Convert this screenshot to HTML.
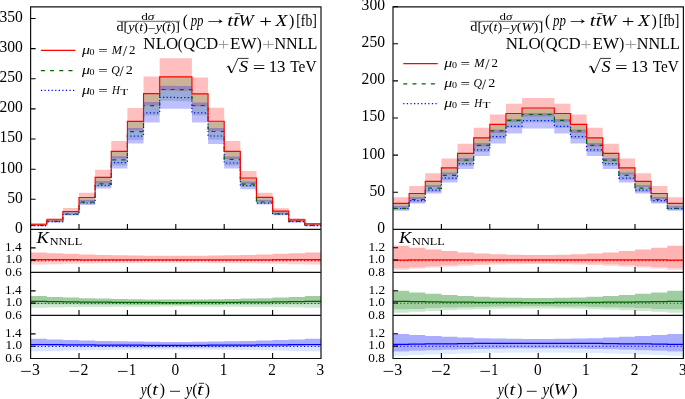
<!DOCTYPE html><html><head><meta charset="utf-8"><style>html,body{margin:0;padding:0;background:#fff;}svg{display:block;will-change:transform;}text{font-family:"Liberation Serif",serif;fill:#000;}.it{font-style:italic;}</style></head><body>
<svg width="685" height="399" viewBox="0 0 685 399">
<rect x="0" y="0" width="685" height="399" fill="#fff"/>
<path d="M30.6,223.2H46.73V218H62.87V207.9H79V192.8H95.13V169.8H111.27V141H127.4V108H143.53V76.5H159.67V58.3H175.8V58.3H191.93V77.6H208.07V107.8H224.2V141H240.33V171.1H256.47V192.8H272.6V208.3H288.73V218.3H304.87V223H321V225.1H304.87V221H288.73V213.5H272.6V201.5H256.47V183.8H240.33V159H224.2V131H208.07V106.5H191.93V90.7H175.8V90.6H159.67V105.6H143.53V130.6H127.4V158.6H111.27V183.5H95.13V201.5H79V213.6H62.87V221H46.73V225.2H30.6Z" fill="rgba(255,0,0,0.25)"/>
<path d="M30.6,224.2H46.73V219.7H62.87V211.5H79V197.5H95.13V177.4H111.27V151.3H127.4V121.3H143.53V93.6H159.67V76.8H175.8V76.9H191.93V93.8H208.07V121.2H224.2V151.4H240.33V178H256.47V197.3H272.6V211.1H288.73V219.8H304.87V223.9H321V225.8H304.87V222H288.73V214.7H272.6V203.8H256.47V187H240.33V165.4H224.2V139.8H208.07V115.5H191.93V101.3H175.8V100.8H159.67V115.5H143.53V140H127.4V165.6H111.27V186.8H95.13V203.8H79V215H62.87V222H46.73V225.8H30.6Z" fill="rgba(0,128,0,0.2)"/>
<path d="M30.6,224.8H46.73V220.5H62.87V212.5H79V200H95.13V181H111.27V156.3H127.4V127.9H143.53V101.9H159.67V85.8H175.8V86H191.93V102.6H208.07V128H224.2V156.6H240.33V181.5H256.47V200H272.6V212.5H288.73V220.5H304.87V224.6H321V226.2H304.87V222.4H288.73V215.3H272.6V204.6H256.47V189.3H240.33V168.6H224.2V144H208.07V122.6H191.93V108.8H175.8V108.8H159.67V122.6H143.53V143.6H127.4V168.6H111.27V188.6H95.13V205H79V215.6H62.87V222.4H46.73V226.2H30.6Z" fill="rgba(0,0,255,0.25)"/>
<path d="M30.6,225.6 46.73,225.6 46.73,221.6 62.87,221.6 62.87,214.5 79,214.5 79,203 95.13,203 95.13,185.4 111.27,185.4 111.27,162.6 127.4,162.6 127.4,136.1 143.53,136.1 143.53,112.8 159.67,112.8 159.67,97.4 175.8,97.4 175.8,97.6 191.93,97.6 191.93,112.8 208.07,112.8 208.07,136 224.2,136 224.2,163 240.33,163 240.33,185.6 256.47,185.6 256.47,203.2 272.6,203.2 272.6,214.2 288.73,214.2 288.73,221.7 304.87,221.7 304.87,225.6 321,225.6" fill="none" stroke="#0000ff" stroke-width="1.2" stroke-dasharray="1.2,2.37"/>
<path d="M30.6,225.4 46.73,225.4 46.73,221.3 62.87,221.3 62.87,214 79,214 79,202.2 95.13,202.2 95.13,183.9 111.27,183.9 111.27,159.8 127.4,159.8 127.4,131.6 143.53,131.6 143.53,105.7 159.67,105.7 159.67,89.5 175.8,89.5 175.8,89.7 191.93,89.7 191.93,105.5 208.07,105.5 208.07,131.5 224.2,131.5 224.2,159.4 240.33,159.4 240.33,184.2 256.47,184.2 256.47,202 272.6,202 272.6,213.8 288.73,213.8 288.73,221.3 304.87,221.3 304.87,225.3 321,225.3" fill="none" stroke="#006400" stroke-width="1.2" stroke-dasharray="4,5.2"/>
<path d="M30.6,224.2 46.73,224.2 46.73,219.7 62.87,219.7 62.87,211.5 79,211.5 79,197.5 95.13,197.5 95.13,177.4 111.27,177.4 111.27,151.3 127.4,151.3 127.4,121.3 143.53,121.3 143.53,93.6 159.67,93.6 159.67,76.8 175.8,76.8 175.8,76.9 191.93,76.9 191.93,93.8 208.07,93.8 208.07,121.2 224.2,121.2 224.2,151.4 240.33,151.4 240.33,178 256.47,178 256.47,197.3 272.6,197.3 272.6,211.1 288.73,211.1 288.73,219.8 304.87,219.8 304.87,223.9 321,223.9" fill="none" stroke="#ff0000" stroke-width="1.15"/>
<path d="M30.6,262H46.73V261.84H62.87V261.71H79V261.59H95.13V261.5H111.27V261.42H127.4V261.36H143.53V261.32H159.67V261.3H175.8V261.3H191.93V261.32H208.07V261.36H224.2V261.42H240.33V261.5H256.47V261.59H272.6V261.71H288.73V261.84H304.87V262H321V264.6H304.87V264.2H288.73V263.85H272.6V263.55H256.47V263.3H240.33V263.11H224.2V262.96H208.07V262.86H191.93V262.81H175.8V262.81H159.67V262.86H143.53V262.96H127.4V263.11H111.27V263.3H95.13V263.55H79V263.85H62.87V264.2H46.73V264.6H30.6Z" fill="rgb(255,208,208)"/>
<path d="M30.6,252.5H46.73V253.23H62.87V253.87H79V254.42H95.13V254.88H111.27V255.24H127.4V255.51H143.53V255.7H159.67V255.79H175.8V255.79H191.93V255.7H208.07V255.51H224.2V255.24H240.33V254.88H256.47V254.42H272.6V253.87H288.73V253.23H304.87V252.5H321V262H304.87V261.84H288.73V261.71H272.6V261.59H256.47V261.5H240.33V261.42H224.2V261.36H208.07V261.32H191.93V261.3H175.8V261.3H159.67V261.32H143.53V261.36H127.4V261.42H111.27V261.5H95.13V261.59H79V261.71H62.87V261.84H46.73V262H30.6Z" fill="rgb(255,180,180)"/>
<line x1="30.6" y1="260.6" x2="321" y2="260.6" stroke="#e00000" stroke-width="1.1" stroke-dasharray="1.2,2.35"/>
<path d="M30.6,259.6H46.73V259.67H62.87V259.72H79V259.77H95.13V259.82H111.27V259.85H127.4V259.87H143.53V259.89H159.67V259.9H175.8V259.9H191.93V259.89H208.07V259.87H224.2V259.85H240.33V259.82H256.47V259.77H272.6V259.72H288.73V259.67H304.87V259.6H321" fill="none" stroke="#ff0000" stroke-width="1.25"/>
<path d="M30.6,304.2H46.73V304.38H62.87V304.53H79V304.67H95.13V304.78H111.27V304.86H127.4V304.93H143.53V304.98H159.67V305H175.8V305H191.93V304.98H208.07V304.93H224.2V304.86H240.33V304.78H256.47V304.67H272.6V304.53H288.73V304.38H304.87V304.2H321V307.8H304.87V307.53H288.73V307.3H272.6V307.1H256.47V306.94H240.33V306.8H224.2V306.7H208.07V306.64H191.93V306.6H175.8V306.6H159.67V306.64H143.53V306.7H127.4V306.8H111.27V306.94H95.13V307.1H79V307.3H62.87V307.53H46.73V307.8H30.6Z" fill="rgb(205,232,208)"/>
<path d="M30.6,296.1H46.73V296.88H62.87V297.55H79V298.13H95.13V298.62H111.27V299.01H127.4V299.3H143.53V299.49H159.67V299.59H175.8V299.59H191.93V299.49H208.07V299.3H224.2V299.01H240.33V298.62H256.47V298.13H272.6V297.55H288.73V296.88H304.87V296.1H321V304.2H304.87V304.38H288.73V304.53H272.6V304.67H256.47V304.78H240.33V304.86H224.2V304.93H208.07V304.98H191.93V305H175.8V305H159.67V304.98H143.53V304.93H127.4V304.86H111.27V304.78H95.13V304.67H79V304.53H62.87V304.38H46.73V304.2H30.6Z" fill="rgb(160,205,160)"/>
<line x1="30.6" y1="303.5" x2="321" y2="303.5" stroke="#0a5a0a" stroke-width="1.1" stroke-dasharray="1.2,2.35"/>
<path d="M30.6,301.4H46.73V301.64H62.87V301.86H79V302.04H95.13V302.19H111.27V302.31H127.4V302.4H143.53V302.47H159.67V302.5H175.8V302.5H191.93V302.47H208.07V302.4H224.2V302.31H240.33V302.19H256.47V302.04H272.6V301.86H288.73V301.64H304.87V301.4H321" fill="none" stroke="#006400" stroke-width="1.25"/>
<path d="M30.6,345.6H46.73V346.04H62.87V346.43H79V346.76H95.13V347.04H111.27V347.26H127.4V347.43H143.53V347.54H159.67V347.59H175.8V347.59H191.93V347.54H208.07V347.43H224.2V347.26H240.33V347.04H256.47V346.76H272.6V346.43H288.73V346.04H304.87V345.6H321V351.3H304.87V350.9H288.73V350.55H272.6V350.25H256.47V350H240.33V349.81H224.2V349.66H208.07V349.56H191.93V349.51H175.8V349.51H159.67V349.56H143.53V349.66H127.4V349.81H111.27V350H95.13V350.25H79V350.55H62.87V350.9H46.73V351.3H30.6Z" fill="rgb(218,228,255)"/>
<path d="M30.6,338.7H46.73V339.41H62.87V340.03H79V340.56H95.13V341H111.27V341.36H127.4V341.62H143.53V341.8H159.67V341.89H175.8V341.89H191.93V341.8H208.07V341.62H224.2V341.36H240.33V341H256.47V340.56H272.6V340.03H288.73V339.41H304.87V338.7H321V345.6H304.87V346.04H288.73V346.43H272.6V346.76H256.47V347.04H240.33V347.26H224.2V347.43H208.07V347.54H191.93V347.59H175.8V347.59H159.67V347.54H143.53V347.43H127.4V347.26H111.27V347.04H95.13V346.76H79V346.43H62.87V346.04H46.73V345.6H30.6Z" fill="rgb(170,172,255)"/>
<line x1="30.6" y1="346.5" x2="321" y2="346.5" stroke="#0000d0" stroke-width="1.1" stroke-dasharray="1.2,2.35"/>
<path d="M30.6,344.5H46.73V344.68H62.87V344.83H79V344.97H95.13V345.08H111.27V345.16H127.4V345.23H143.53V345.28H159.67V345.3H175.8V345.3H191.93V345.28H208.07V345.23H224.2V345.16H240.33V345.08H256.47V344.97H272.6V344.83H288.73V344.68H304.87V344.5H321" fill="none" stroke="#0000ff" stroke-width="1.25"/>
<path d="M30.6,199.31H35.6M30.6,169.18H35.6M30.6,139.04H35.6M30.6,108.91H35.6M30.6,78.77H35.6M30.6,48.64H35.6M30.6,18.5H35.6M79,229.45V224.05M79,272.45V267.05M79,315.45V310.05M79,358.5V353.1M127.4,229.45V224.05M127.4,272.45V267.05M127.4,315.45V310.05M127.4,358.5V353.1M175.8,229.45V224.05M175.8,272.45V267.05M175.8,315.45V310.05M175.8,358.5V353.1M224.2,229.45V224.05M224.2,272.45V267.05M224.2,315.45V310.05M224.2,358.5V353.1M272.6,229.45V224.05M272.6,272.45V267.05M272.6,315.45V310.05M272.6,358.5V353.1M30.6,260.15H35.6M30.6,247.85H35.6M30.6,303.15H35.6M30.6,290.85H35.6M30.6,346.2H35.6M30.6,333.9H35.6" stroke="#000" stroke-width="1.1" fill="none"/>
<path d="M30.6,6.9H321V358.5H30.6Z" fill="none" stroke="#111" stroke-width="1.2"/>
<path d="M30.6,229.45H321M30.6,272.45H321M30.6,315.45H321" fill="none" stroke="#111" stroke-width="1.2"/>
<text x="15.02" y="232.85" font-size="16.4" textLength="7.8" lengthAdjust="spacingAndGlyphs"><tspan>0</tspan></text>
<text x="7.22" y="202.72" font-size="16.4" textLength="15.6" lengthAdjust="spacingAndGlyphs"><tspan>50</tspan></text>
<text x="-0.58" y="172.58" font-size="16.4" textLength="23.4" lengthAdjust="spacingAndGlyphs"><tspan>100</tspan></text>
<text x="-0.58" y="142.44" font-size="16.4" textLength="23.4" lengthAdjust="spacingAndGlyphs"><tspan>150</tspan></text>
<text x="-0.58" y="112.31" font-size="16.4" textLength="23.4" lengthAdjust="spacingAndGlyphs"><tspan>200</tspan></text>
<text x="-0.58" y="82.17" font-size="16.4" textLength="23.4" lengthAdjust="spacingAndGlyphs"><tspan>250</tspan></text>
<text x="-0.58" y="52.04" font-size="16.4" textLength="23.4" lengthAdjust="spacingAndGlyphs"><tspan>300</tspan></text>
<text x="-0.58" y="21.9" font-size="16.4" textLength="23.4" lengthAdjust="spacingAndGlyphs"><tspan>350</tspan></text>
<text x="5.06" y="251.05" font-size="13" textLength="16.57" lengthAdjust="spacingAndGlyphs"><tspan>1.4</tspan></text>
<text x="5.46" y="263.35" font-size="13" textLength="16.57" lengthAdjust="spacingAndGlyphs"><tspan>1.0</tspan></text>
<text x="5.32" y="275.65" font-size="13" textLength="16.57" lengthAdjust="spacingAndGlyphs"><tspan>0.6</tspan></text>
<text x="5.06" y="294.05" font-size="13" textLength="16.57" lengthAdjust="spacingAndGlyphs"><tspan>1.4</tspan></text>
<text x="5.46" y="306.35" font-size="13" textLength="16.57" lengthAdjust="spacingAndGlyphs"><tspan>1.0</tspan></text>
<text x="5.32" y="318.65" font-size="13" textLength="16.57" lengthAdjust="spacingAndGlyphs"><tspan>0.6</tspan></text>
<text x="5.06" y="337.1" font-size="13" textLength="16.57" lengthAdjust="spacingAndGlyphs"><tspan>1.4</tspan></text>
<text x="5.46" y="349.4" font-size="13" textLength="16.57" lengthAdjust="spacingAndGlyphs"><tspan>1.0</tspan></text>
<text x="5.32" y="361.7" font-size="13" textLength="16.57" lengthAdjust="spacingAndGlyphs"><tspan>0.6</tspan></text>
<line x1="21.2" y1="371.4" x2="30.8" y2="371.4" stroke="#000" stroke-width="0.85"/>
<text x="31.91" y="375.3" font-size="16.4" textLength="7.93" lengthAdjust="spacingAndGlyphs"><tspan>3</tspan></text>
<line x1="69.6" y1="371.4" x2="79.2" y2="371.4" stroke="#000" stroke-width="0.85"/>
<text x="80.47" y="375.3" font-size="16.4" textLength="7.93" lengthAdjust="spacingAndGlyphs"><tspan>2</tspan></text>
<line x1="118" y1="371.4" x2="127.6" y2="371.4" stroke="#000" stroke-width="0.85"/>
<text x="128.91" y="375.3" font-size="16.4" textLength="7.14" lengthAdjust="spacingAndGlyphs"><tspan>1</tspan></text>
<text x="171.47" y="375.3" font-size="16.4" textLength="7.65" lengthAdjust="spacingAndGlyphs"><tspan>0</tspan></text>
<text x="219.65" y="375.3" font-size="16.4" textLength="7.65" lengthAdjust="spacingAndGlyphs"><tspan>1</tspan></text>
<text x="268.35" y="375.3" font-size="16.4" textLength="7.65" lengthAdjust="spacingAndGlyphs"><tspan>2</tspan></text>
<text x="316.6" y="375.3" font-size="16.4" textLength="7.65" lengthAdjust="spacingAndGlyphs"><tspan>3</tspan></text>
<text x="36.58" y="242.5" font-size="16.8" textLength="12.32" lengthAdjust="spacingAndGlyphs"><tspan font-style="italic">K</tspan></text>
<text x="49.73" y="245.2" font-size="11.4" textLength="32.55" lengthAdjust="spacingAndGlyphs"><tspan>NNLL</tspan></text>
<line x1="40.9" y1="50.4" x2="75.3" y2="50.4" stroke="#ff0000" stroke-width="1.3"/>
<line x1="40.9" y1="70.6" x2="73.3" y2="70.6" stroke="#006400" stroke-width="1.3" stroke-dasharray="4,5.2"/>
<line x1="40.9" y1="90.4" x2="75.3" y2="90.4" stroke="#0000ff" stroke-width="1.3" stroke-dasharray="1.2,2.37"/>
<text x="81.9" y="53.7" font-size="11.6" textLength="8.01" lengthAdjust="spacingAndGlyphs"><tspan font-style="italic">μ</tspan></text>
<text x="89.5" y="55" font-size="8.4" textLength="5" lengthAdjust="spacingAndGlyphs"><tspan>0</tspan></text>
<text x="98.16" y="55" font-size="11.8" textLength="9.48" lengthAdjust="spacingAndGlyphs"><tspan>=</tspan></text>
<text x="111.82" y="53.7" font-size="12" textLength="10.3" lengthAdjust="spacingAndGlyphs"><tspan font-style="italic">M</tspan></text>
<line x1="126.7" y1="46.1" x2="123.2" y2="56.1" stroke="#000" stroke-width="0.75"/>
<text x="129.08" y="53.7" font-size="11.8" textLength="6.46" lengthAdjust="spacingAndGlyphs"><tspan>2</tspan></text>
<text x="81.9" y="73.9" font-size="11.6" textLength="8.01" lengthAdjust="spacingAndGlyphs"><tspan font-style="italic">μ</tspan></text>
<text x="89.5" y="75.2" font-size="8.4" textLength="5" lengthAdjust="spacingAndGlyphs"><tspan>0</tspan></text>
<text x="98.16" y="75.2" font-size="11.8" textLength="9.48" lengthAdjust="spacingAndGlyphs"><tspan>=</tspan></text>
<text x="111.21" y="73.9" font-size="12" textLength="8.53" lengthAdjust="spacingAndGlyphs"><tspan font-style="italic">Q</tspan></text>
<line x1="123.3" y1="66.3" x2="119.9" y2="76.3" stroke="#000" stroke-width="0.75"/>
<text x="125.83" y="73.9" font-size="11.8" textLength="7.07" lengthAdjust="spacingAndGlyphs"><tspan>2</tspan></text>
<text x="81.9" y="93.7" font-size="11.6" textLength="8.01" lengthAdjust="spacingAndGlyphs"><tspan font-style="italic">μ</tspan></text>
<text x="89.5" y="95" font-size="8.4" textLength="5" lengthAdjust="spacingAndGlyphs"><tspan>0</tspan></text>
<text x="98.16" y="95" font-size="11.8" textLength="9.48" lengthAdjust="spacingAndGlyphs"><tspan>=</tspan></text>
<text x="111.91" y="93.7" font-size="12" textLength="7.87" lengthAdjust="spacingAndGlyphs"><tspan font-style="italic">H</tspan></text>
<text x="120.24" y="95" font-size="8.6" textLength="8" lengthAdjust="spacingAndGlyphs"><tspan>T</tspan></text>
<text x="182.68" y="25.5" font-size="16.6" textLength="5.12" lengthAdjust="spacingAndGlyphs"><tspan>(</tspan></text>
<text x="190.67" y="25.5" font-size="16.6" textLength="12.82" lengthAdjust="spacingAndGlyphs"><tspan font-style="italic">pp</tspan></text>
<text x="203.73" y="24.3" font-size="16.6" textLength="23.83" lengthAdjust="spacingAndGlyphs"><tspan>→</tspan></text>
<text x="227.35" y="25.5" font-size="16.6" textLength="11.83" lengthAdjust="spacingAndGlyphs"><tspan font-style="italic">tt</tspan></text>
<text x="238.63" y="25.5" font-size="16.6" textLength="15.07" lengthAdjust="spacingAndGlyphs"><tspan font-style="italic">W</tspan></text>
<text x="259.27" y="27.3" font-size="16.6" textLength="12.72" lengthAdjust="spacingAndGlyphs"><tspan>+</tspan></text>
<text x="275.58" y="25.5" font-size="16.6" textLength="11.76" lengthAdjust="spacingAndGlyphs"><tspan font-style="italic">X</tspan></text>
<text x="289.12" y="25.5" font-size="16.6" textLength="5.38" lengthAdjust="spacingAndGlyphs"><tspan>)</tspan></text>
<text x="296.24" y="25.5" font-size="16.6" textLength="20.61" lengthAdjust="spacingAndGlyphs"><tspan>[fb]</tspan></text>
<line x1="234.8" y1="13.7" x2="240.3" y2="13.7" stroke="#000" stroke-width="0.75"/>
<text x="143.39" y="48.6" font-size="16.6" textLength="34.88" lengthAdjust="spacingAndGlyphs"><tspan>NLO</tspan></text>
<text x="177.73" y="48.6" font-size="16.6" textLength="4.74" lengthAdjust="spacingAndGlyphs"><tspan>(</tspan></text>
<text x="183.34" y="48.6" font-size="16.6" textLength="34.84" lengthAdjust="spacingAndGlyphs"><tspan>QCD</tspan></text>
<text x="217.78" y="50.2" font-size="16.6" textLength="11.52" lengthAdjust="spacingAndGlyphs" style="fill:#a0a0a0"><tspan>+</tspan></text>
<text x="230.09" y="48.6" font-size="16.6" textLength="26.49" lengthAdjust="spacingAndGlyphs"><tspan>EW</tspan></text>
<text x="256.85" y="48.6" font-size="16.6" textLength="4.99" lengthAdjust="spacingAndGlyphs"><tspan>)</tspan></text>
<text x="261.96" y="50.2" font-size="16.6" textLength="12.84" lengthAdjust="spacingAndGlyphs" style="fill:#a0a0a0"><tspan>+</tspan></text>
<text x="274.42" y="48.6" font-size="16.6" textLength="42.99" lengthAdjust="spacingAndGlyphs"><tspan>NNLL</tspan></text>
<path d="M226.5,67.4 L228.4,65.9 L231.6,72.9 L238,58.4 H248.6" fill="none" stroke="#000" stroke-width="0.8" stroke-linejoin="miter"/>
<path d="M228.6,66.2 L231.5,72.9" stroke="#000" stroke-width="1.5"/>
<text x="239.02" y="71.5" font-size="16.6" textLength="9.06" lengthAdjust="spacingAndGlyphs"><tspan font-style="italic">S</tspan></text>
<text x="252.68" y="73.4" font-size="16.6" textLength="12.6" lengthAdjust="spacingAndGlyphs"><tspan>=</tspan></text>
<text x="268.69" y="71.5" font-size="16.6" textLength="16.78" lengthAdjust="spacingAndGlyphs"><tspan>13</tspan></text>
<text x="290.29" y="71.5" font-size="16.6" textLength="26.17" lengthAdjust="spacingAndGlyphs"><tspan>TeV</tspan></text>
<line x1="117" y1="21.3" x2="180" y2="21.3" stroke="#000" stroke-width="0.6"/>
<text x="141.2" y="19.9" font-size="10.6" textLength="13.21" lengthAdjust="spacingAndGlyphs"><tspan>d</tspan><tspan font-style="italic">σ</tspan></text>
<text x="116.58" y="30.6" font-size="11.6" textLength="63.49" lengthAdjust="spacingAndGlyphs"><tspan>d[</tspan><tspan font-style="italic">y</tspan><tspan>(</tspan><tspan font-style="italic">t</tspan><tspan>)</tspan><tspan dy="0.9">−</tspan><tspan font-style="italic" dy="-0.9">y</tspan><tspan>(</tspan><tspan font-style="italic">t</tspan><tspan>)]</tspan></text>
<line x1="165.6" y1="22.3" x2="170.3" y2="22.3" stroke="#000" stroke-width="0.6"/>
<line x1="198.9" y1="383.3" x2="204.1" y2="383.3" stroke="#000" stroke-width="0.8"/>
<text x="140.76" y="395.2" font-size="16.6" textLength="5.86" lengthAdjust="spacingAndGlyphs"><tspan font-style="italic">y</tspan></text>
<text x="146.67" y="395.2" font-size="16.6" textLength="5.25" lengthAdjust="spacingAndGlyphs"><tspan>(</tspan></text>
<text x="152.28" y="395.2" font-size="16.6" textLength="5.66" lengthAdjust="spacingAndGlyphs"><tspan font-style="italic">t</tspan></text>
<text x="159.63" y="395.2" font-size="16.6" textLength="5.25" lengthAdjust="spacingAndGlyphs"><tspan>)</tspan></text>
<text x="185.75" y="395.2" font-size="16.6" textLength="6.37" lengthAdjust="spacingAndGlyphs"><tspan font-style="italic">y</tspan></text>
<text x="192.17" y="395.2" font-size="16.6" textLength="5.25" lengthAdjust="spacingAndGlyphs"><tspan>(</tspan></text>
<text x="197.09" y="395.2" font-size="16.6" textLength="6.3" lengthAdjust="spacingAndGlyphs"><tspan font-style="italic">t</tspan></text>
<text x="204.63" y="395.2" font-size="16.6" textLength="5.25" lengthAdjust="spacingAndGlyphs"><tspan>)</tspan></text>
<line x1="170" y1="391.3" x2="180" y2="391.3" stroke="#000" stroke-width="0.85"/>
<path d="M393,197.2H409.13V186H425.27V173.2H441.4V158.6H457.53V143.8H473.67V127.8H489.8V114.5H505.93V103.7H522.07V98H538.2V98H554.33V103.7H570.47V114.5H586.6V127.8H602.73V143.8H618.87V158.6H635V173.2H651.13V186H667.27V197.2H683.4V207.5H667.27V199H651.13V187H635V174.6H618.87V161.5H602.73V146.5H586.6V133H570.47V122H554.33V116.6H538.2V116.6H522.07V122H505.93V133H489.8V146.5H473.67V161.5H457.53V174.6H441.4V187H425.27V199H409.13V207.5H393Z" fill="rgba(255,0,0,0.25)"/>
<path d="M393,203.3H409.13V193.5H425.27V181.4H441.4V167.9H457.53V153.3H473.67V137.8H489.8V124.4H505.93V113.5H522.07V108H538.2V108H554.33V113.5H570.47V124.4H586.6V137.8H602.73V153.3H618.87V167.9H635V181.4H651.13V193.5H667.27V203.3H683.4V210H667.27V202.5H651.13V192H635V180H618.87V166H602.73V152H586.6V139H570.47V128H554.33V122.6H538.2V122.6H522.07V128H505.93V139H489.8V152H473.67V166H457.53V180H441.4V192H425.27V202.5H409.13V210H393Z" fill="rgba(0,128,0,0.2)"/>
<path d="M393,206H409.13V197H425.27V185H441.4V172.6H457.53V158H473.67V143H489.8V129.5H505.93V119H522.07V113H538.2V113H554.33V119H570.47V129.5H586.6V143H602.73V158H618.87V172.6H635V185H651.13V197H667.27V206H683.4V210.8H667.27V203.5H651.13V193.5H635V182.4H618.87V169H602.73V155.9H586.6V143.4H570.47V133.6H554.33V128.6H538.2V128.6H522.07V133.6H505.93V143.4H489.8V155.9H473.67V169H457.53V182.4H441.4V193.5H425.27V203.5H409.13V210.8H393Z" fill="rgba(0,0,255,0.25)"/>
<path d="M393,208.5 409.13,208.5 409.13,200.7 425.27,200.7 425.27,190.2 441.4,190.2 441.4,178.2 457.53,178.2 457.53,163.6 473.67,163.6 473.67,149.8 489.8,149.8 489.8,136.6 505.93,136.6 505.93,126.4 522.07,126.4 522.07,120.6 538.2,120.6 538.2,120.6 554.33,120.6 554.33,126.4 570.47,126.4 570.47,136.6 586.6,136.6 586.6,149.8 602.73,149.8 602.73,163.6 618.87,163.6 618.87,178.2 635,178.2 635,190.2 651.13,190.2 651.13,200.7 667.27,200.7 667.27,208.5 683.4,208.5" fill="none" stroke="#0000ff" stroke-width="1.2" stroke-dasharray="1.2,2.37"/>
<path d="M393,208.4 409.13,208.4 409.13,199.5 425.27,199.5 425.27,188.2 441.4,188.2 441.4,175.4 457.53,175.4 457.53,160.2 473.67,160.2 473.67,145.3 489.8,145.3 489.8,130.8 505.93,130.8 505.93,120.3 522.07,120.3 522.07,114.5 538.2,114.5 538.2,114.5 554.33,114.5 554.33,120.3 570.47,120.3 570.47,130.8 586.6,130.8 586.6,145.3 602.73,145.3 602.73,160.2 618.87,160.2 618.87,175.4 635,175.4 635,188.2 651.13,188.2 651.13,199.5 667.27,199.5 667.27,208.4 683.4,208.4" fill="none" stroke="#006400" stroke-width="1.2" stroke-dasharray="4,5.2"/>
<path d="M393,203.3 409.13,203.3 409.13,193.5 425.27,193.5 425.27,181.4 441.4,181.4 441.4,167.9 457.53,167.9 457.53,153.3 473.67,153.3 473.67,137.8 489.8,137.8 489.8,124.4 505.93,124.4 505.93,113.5 522.07,113.5 522.07,108 538.2,108 538.2,108 554.33,108 554.33,113.5 570.47,113.5 570.47,124.4 586.6,124.4 586.6,137.8 602.73,137.8 602.73,153.3 618.87,153.3 618.87,167.9 635,167.9 635,181.4 651.13,181.4 651.13,193.5 667.27,193.5 667.27,203.3 683.4,203.3" fill="none" stroke="#ff0000" stroke-width="1.15"/>
<path d="M393,268H409.13V266.89H425.27V265.92H441.4V265.09H457.53V264.4H473.67V263.85H489.8V263.43H505.93V263.16H522.07V263.02H538.2V263.02H554.33V263.16H570.47V263.43H586.6V263.85H602.73V264.4H618.87V265.09H635V265.92H651.13V266.89H667.27V268H683.4V269.8H667.27V268.52H651.13V267.39H635V266.43H618.87V265.63H602.73V264.98H586.6V264.5H570.47V264.18H554.33V264.02H538.2V264.02H522.07V264.18H505.93V264.5H489.8V264.98H473.67V265.63H457.53V266.43H441.4V267.39H425.27V268.52H409.13V269.8H393Z" fill="rgb(255,208,208)"/>
<path d="M393,245.7H409.13V247.76H425.27V249.56H441.4V251.11H457.53V252.39H473.67V253.42H489.8V254.2H505.93V254.71H522.07V254.97H538.2V254.97H554.33V254.71H570.47V254.2H586.6V253.42H602.73V252.39H618.87V251.11H635V249.56H651.13V247.76H667.27V245.7H683.4V268H667.27V266.89H651.13V265.92H635V265.09H618.87V264.4H602.73V263.85H586.6V263.43H570.47V263.16H554.33V263.02H538.2V263.02H522.07V263.16H505.93V263.43H489.8V263.85H473.67V264.4H457.53V265.09H441.4V265.92H425.27V266.89H409.13V268H393Z" fill="rgb(255,180,180)"/>
<line x1="393" y1="260.6" x2="683.4" y2="260.6" stroke="#e00000" stroke-width="1.1" stroke-dasharray="1.2,2.35"/>
<path d="M393,260H409.13V259.98H425.27V259.96H441.4V259.94H457.53V259.93H473.67V259.92H489.8V259.91H505.93V259.9H522.07V259.9H538.2V259.9H554.33V259.9H570.47V259.91H586.6V259.92H602.73V259.93H618.87V259.94H635V259.96H651.13V259.98H667.27V260H683.4" fill="none" stroke="#ff0000" stroke-width="1.25"/>
<path d="M393,309.6H409.13V308.94H425.27V308.35H441.4V307.86H457.53V307.44H473.67V307.11H489.8V306.86H505.93V306.69H522.07V306.61H538.2V306.61H554.33V306.69H570.47V306.86H586.6V307.11H602.73V307.44H618.87V307.86H635V308.35H651.13V308.94H667.27V309.6H683.4V312.7H667.27V311.75H651.13V310.91H635V310.2H618.87V309.61H602.73V309.13H586.6V308.77H570.47V308.53H554.33V308.41H538.2V308.41H522.07V308.53H505.93V308.77H489.8V309.13H473.67V309.61H457.53V310.2H441.4V310.91H425.27V311.75H409.13V312.7H393Z" fill="rgb(205,232,208)"/>
<path d="M393,290.8H409.13V292.42H425.27V293.83H441.4V295.04H457.53V296.05H473.67V296.86H489.8V297.47H505.93V297.87H522.07V298.07H538.2V298.07H554.33V297.87H570.47V297.47H586.6V296.86H602.73V296.05H618.87V295.04H635V293.83H651.13V292.42H667.27V290.8H683.4V309.6H667.27V308.94H651.13V308.35H635V307.86H618.87V307.44H602.73V307.11H586.6V306.86H570.47V306.69H554.33V306.61H538.2V306.61H522.07V306.69H505.93V306.86H489.8V307.11H473.67V307.44H457.53V307.86H441.4V308.35H425.27V308.94H409.13V309.6H393Z" fill="rgb(160,205,160)"/>
<line x1="393" y1="303.3" x2="683.4" y2="303.3" stroke="#0a5a0a" stroke-width="1.1" stroke-dasharray="1.2,2.35"/>
<path d="M393,301.3H409.13V301.57H425.27V301.8H441.4V302H457.53V302.16H473.67V302.3H489.8V302.4H505.93V302.46H522.07V302.5H538.2V302.5H554.33V302.46H570.47V302.4H586.6V302.3H602.73V302.16H618.87V302H635V301.8H651.13V301.57H667.27V301.3H683.4" fill="none" stroke="#006400" stroke-width="1.25"/>
<path d="M393,351.5H409.13V350.81H425.27V350.21H441.4V349.7H457.53V349.27H473.67V348.93H489.8V348.67H505.93V348.5H522.07V348.41H538.2V348.41H554.33V348.5H570.47V348.67H586.6V348.93H602.73V349.27H618.87V349.7H635V350.21H651.13V350.81H667.27V351.5H683.4V355.8H667.27V355.07H651.13V354.43H635V353.88H618.87V353.42H602.73V353.06H586.6V352.79H570.47V352.6H554.33V352.51H538.2V352.51H522.07V352.6H505.93V352.79H489.8V353.06H473.67V353.42H457.53V353.88H441.4V354.43H425.27V355.07H409.13V355.8H393Z" fill="rgb(222,236,255)"/>
<path d="M393,333.9H409.13V335.03H425.27V336.02H441.4V336.86H457.53V337.57H473.67V338.14H489.8V338.56H505.93V338.84H522.07V338.98H538.2V338.98H554.33V338.84H570.47V338.56H586.6V338.14H602.73V337.57H618.87V336.86H635V336.02H651.13V335.03H667.27V333.9H683.4V351.5H667.27V350.81H651.13V350.21H635V349.7H618.87V349.27H602.73V348.93H586.6V348.67H570.47V348.5H554.33V348.41H538.2V348.41H522.07V348.5H505.93V348.67H489.8V348.93H473.67V349.27H457.53V349.7H441.4V350.21H425.27V350.81H409.13V351.5H393Z" fill="rgb(170,172,255)"/>
<line x1="393" y1="346.3" x2="683.4" y2="346.3" stroke="#0000d0" stroke-width="1.1" stroke-dasharray="1.2,2.35"/>
<path d="M393,344.4H409.13V344.16H425.27V343.94H441.4V343.76H457.53V343.61H473.67V343.49H489.8V343.4H505.93V343.33H522.07V343.3H538.2V343.3H554.33V343.33H570.47V343.4H586.6V343.49H602.73V343.61H618.87V343.76H635V343.94H651.13V344.16H667.27V344.4H683.4" fill="none" stroke="#0000ff" stroke-width="1.25"/>
<path d="M393,192.31H398M393,155.17H398M393,118.03H398M393,80.89H398M393,43.75H398M393,6.61H398M441.4,229.45V224.05M441.4,272.45V267.05M441.4,315.45V310.05M441.4,358.5V353.1M489.8,229.45V224.05M489.8,272.45V267.05M489.8,315.45V310.05M489.8,358.5V353.1M538.2,229.45V224.05M538.2,272.45V267.05M538.2,315.45V310.05M538.2,358.5V353.1M586.6,229.45V224.05M586.6,272.45V267.05M586.6,315.45V310.05M586.6,358.5V353.1M635,229.45V224.05M635,272.45V267.05M635,315.45V310.05M635,358.5V353.1M393,260.07H398M393,247.69H398M393,303.07H398M393,290.69H398M393,346.12H398M393,333.74H398" stroke="#000" stroke-width="1.1" fill="none"/>
<path d="M393,6.9H683.4V358.5H393Z" fill="none" stroke="#111" stroke-width="1.2"/>
<path d="M393,229.45H683.4M393,272.45H683.4M393,315.45H683.4" fill="none" stroke="#111" stroke-width="1.2"/>
<text x="377.22" y="232.85" font-size="16.4" textLength="7.8" lengthAdjust="spacingAndGlyphs"><tspan>0</tspan></text>
<text x="369.42" y="195.71" font-size="16.4" textLength="15.6" lengthAdjust="spacingAndGlyphs"><tspan>50</tspan></text>
<text x="361.62" y="158.57" font-size="16.4" textLength="23.4" lengthAdjust="spacingAndGlyphs"><tspan>100</tspan></text>
<text x="361.62" y="121.43" font-size="16.4" textLength="23.4" lengthAdjust="spacingAndGlyphs"><tspan>150</tspan></text>
<text x="361.62" y="84.29" font-size="16.4" textLength="23.4" lengthAdjust="spacingAndGlyphs"><tspan>200</tspan></text>
<text x="361.62" y="47.15" font-size="16.4" textLength="23.4" lengthAdjust="spacingAndGlyphs"><tspan>250</tspan></text>
<text x="361.62" y="10.01" font-size="16.4" textLength="23.4" lengthAdjust="spacingAndGlyphs"><tspan>300</tspan></text>
<text x="368.49" y="250.89" font-size="13" textLength="16.57" lengthAdjust="spacingAndGlyphs"><tspan>1.2</tspan></text>
<text x="368.36" y="263.27" font-size="13" textLength="16.58" lengthAdjust="spacingAndGlyphs"><tspan>1.0</tspan></text>
<text x="368.36" y="275.65" font-size="13" textLength="16.58" lengthAdjust="spacingAndGlyphs"><tspan>0.8</tspan></text>
<text x="368.49" y="293.89" font-size="13" textLength="16.57" lengthAdjust="spacingAndGlyphs"><tspan>1.2</tspan></text>
<text x="368.36" y="306.27" font-size="13" textLength="16.58" lengthAdjust="spacingAndGlyphs"><tspan>1.0</tspan></text>
<text x="368.36" y="318.65" font-size="13" textLength="16.58" lengthAdjust="spacingAndGlyphs"><tspan>0.8</tspan></text>
<text x="368.49" y="336.94" font-size="13" textLength="16.57" lengthAdjust="spacingAndGlyphs"><tspan>1.2</tspan></text>
<text x="368.36" y="349.32" font-size="13" textLength="16.58" lengthAdjust="spacingAndGlyphs"><tspan>1.0</tspan></text>
<text x="368.36" y="361.7" font-size="13" textLength="16.58" lengthAdjust="spacingAndGlyphs"><tspan>0.8</tspan></text>
<line x1="383.6" y1="371.4" x2="393.2" y2="371.4" stroke="#000" stroke-width="0.85"/>
<text x="394.31" y="375.3" font-size="16.4" textLength="7.93" lengthAdjust="spacingAndGlyphs"><tspan>3</tspan></text>
<line x1="432" y1="371.4" x2="441.6" y2="371.4" stroke="#000" stroke-width="0.85"/>
<text x="442.87" y="375.3" font-size="16.4" textLength="7.93" lengthAdjust="spacingAndGlyphs"><tspan>2</tspan></text>
<line x1="480.4" y1="371.4" x2="490" y2="371.4" stroke="#000" stroke-width="0.85"/>
<text x="491.31" y="375.3" font-size="16.4" textLength="7.14" lengthAdjust="spacingAndGlyphs"><tspan>1</tspan></text>
<text x="533.88" y="375.3" font-size="16.4" textLength="7.65" lengthAdjust="spacingAndGlyphs"><tspan>0</tspan></text>
<text x="582.05" y="375.3" font-size="16.4" textLength="7.65" lengthAdjust="spacingAndGlyphs"><tspan>1</tspan></text>
<text x="630.75" y="375.3" font-size="16.4" textLength="7.65" lengthAdjust="spacingAndGlyphs"><tspan>2</tspan></text>
<text x="679" y="375.3" font-size="16.4" textLength="7.65" lengthAdjust="spacingAndGlyphs"><tspan>3</tspan></text>
<text x="398.98" y="242.5" font-size="16.8" textLength="12.32" lengthAdjust="spacingAndGlyphs"><tspan font-style="italic">K</tspan></text>
<text x="412.13" y="245.2" font-size="11.4" textLength="32.55" lengthAdjust="spacingAndGlyphs"><tspan>NNLL</tspan></text>
<line x1="403.3" y1="63.6" x2="437.7" y2="63.6" stroke="#ff0000" stroke-width="1.3"/>
<line x1="403.3" y1="83.8" x2="435.7" y2="83.8" stroke="#006400" stroke-width="1.3" stroke-dasharray="4,5.2"/>
<line x1="403.3" y1="103.6" x2="437.7" y2="103.6" stroke="#0000ff" stroke-width="1.3" stroke-dasharray="1.2,2.37"/>
<text x="444.3" y="66.9" font-size="11.6" textLength="8.01" lengthAdjust="spacingAndGlyphs"><tspan font-style="italic">μ</tspan></text>
<text x="451.9" y="68.2" font-size="8.4" textLength="5" lengthAdjust="spacingAndGlyphs"><tspan>0</tspan></text>
<text x="460.56" y="68.2" font-size="11.8" textLength="9.48" lengthAdjust="spacingAndGlyphs"><tspan>=</tspan></text>
<text x="474.22" y="66.9" font-size="12" textLength="10.3" lengthAdjust="spacingAndGlyphs"><tspan font-style="italic">M</tspan></text>
<line x1="489.1" y1="59.3" x2="485.6" y2="69.3" stroke="#000" stroke-width="0.75"/>
<text x="491.48" y="66.9" font-size="11.8" textLength="6.46" lengthAdjust="spacingAndGlyphs"><tspan>2</tspan></text>
<text x="444.3" y="87.1" font-size="11.6" textLength="8.01" lengthAdjust="spacingAndGlyphs"><tspan font-style="italic">μ</tspan></text>
<text x="451.9" y="88.4" font-size="8.4" textLength="5" lengthAdjust="spacingAndGlyphs"><tspan>0</tspan></text>
<text x="460.56" y="88.4" font-size="11.8" textLength="9.48" lengthAdjust="spacingAndGlyphs"><tspan>=</tspan></text>
<text x="473.61" y="87.1" font-size="12" textLength="8.53" lengthAdjust="spacingAndGlyphs"><tspan font-style="italic">Q</tspan></text>
<line x1="485.7" y1="79.5" x2="482.3" y2="89.5" stroke="#000" stroke-width="0.75"/>
<text x="488.23" y="87.1" font-size="11.8" textLength="7.07" lengthAdjust="spacingAndGlyphs"><tspan>2</tspan></text>
<text x="444.3" y="106.9" font-size="11.6" textLength="8.01" lengthAdjust="spacingAndGlyphs"><tspan font-style="italic">μ</tspan></text>
<text x="451.9" y="108.2" font-size="8.4" textLength="5" lengthAdjust="spacingAndGlyphs"><tspan>0</tspan></text>
<text x="460.56" y="108.2" font-size="11.8" textLength="9.48" lengthAdjust="spacingAndGlyphs"><tspan>=</tspan></text>
<text x="474.31" y="106.9" font-size="12" textLength="7.87" lengthAdjust="spacingAndGlyphs"><tspan font-style="italic">H</tspan></text>
<text x="482.64" y="108.2" font-size="8.6" textLength="8" lengthAdjust="spacingAndGlyphs"><tspan>T</tspan></text>
<text x="545.08" y="25.5" font-size="16.6" textLength="5.12" lengthAdjust="spacingAndGlyphs"><tspan>(</tspan></text>
<text x="553.07" y="25.5" font-size="16.6" textLength="12.82" lengthAdjust="spacingAndGlyphs"><tspan font-style="italic">pp</tspan></text>
<text x="566.13" y="24.3" font-size="16.6" textLength="23.83" lengthAdjust="spacingAndGlyphs"><tspan>→</tspan></text>
<text x="589.75" y="25.5" font-size="16.6" textLength="11.83" lengthAdjust="spacingAndGlyphs"><tspan font-style="italic">tt</tspan></text>
<text x="601.03" y="25.5" font-size="16.6" textLength="15.07" lengthAdjust="spacingAndGlyphs"><tspan font-style="italic">W</tspan></text>
<text x="621.67" y="27.3" font-size="16.6" textLength="12.72" lengthAdjust="spacingAndGlyphs"><tspan>+</tspan></text>
<text x="637.98" y="25.5" font-size="16.6" textLength="11.76" lengthAdjust="spacingAndGlyphs"><tspan font-style="italic">X</tspan></text>
<text x="651.52" y="25.5" font-size="16.6" textLength="5.38" lengthAdjust="spacingAndGlyphs"><tspan>)</tspan></text>
<text x="658.64" y="25.5" font-size="16.6" textLength="20.61" lengthAdjust="spacingAndGlyphs"><tspan>[fb]</tspan></text>
<line x1="597.2" y1="13.7" x2="602.7" y2="13.7" stroke="#000" stroke-width="0.75"/>
<text x="505.79" y="48.6" font-size="16.6" textLength="34.88" lengthAdjust="spacingAndGlyphs"><tspan>NLO</tspan></text>
<text x="540.13" y="48.6" font-size="16.6" textLength="4.74" lengthAdjust="spacingAndGlyphs"><tspan>(</tspan></text>
<text x="545.74" y="48.6" font-size="16.6" textLength="34.84" lengthAdjust="spacingAndGlyphs"><tspan>QCD</tspan></text>
<text x="580.18" y="50.2" font-size="16.6" textLength="11.52" lengthAdjust="spacingAndGlyphs" style="fill:#a0a0a0"><tspan>+</tspan></text>
<text x="592.49" y="48.6" font-size="16.6" textLength="26.49" lengthAdjust="spacingAndGlyphs"><tspan>EW</tspan></text>
<text x="619.25" y="48.6" font-size="16.6" textLength="4.99" lengthAdjust="spacingAndGlyphs"><tspan>)</tspan></text>
<text x="624.36" y="50.2" font-size="16.6" textLength="12.84" lengthAdjust="spacingAndGlyphs" style="fill:#a0a0a0"><tspan>+</tspan></text>
<text x="636.82" y="48.6" font-size="16.6" textLength="42.99" lengthAdjust="spacingAndGlyphs"><tspan>NNLL</tspan></text>
<path d="M588.9,67.4 L590.8,65.9 L594,72.9 L600.4,58.4 H611" fill="none" stroke="#000" stroke-width="0.8" stroke-linejoin="miter"/>
<path d="M591,66.2 L593.9,72.9" stroke="#000" stroke-width="1.5"/>
<text x="601.42" y="71.5" font-size="16.6" textLength="9.06" lengthAdjust="spacingAndGlyphs"><tspan font-style="italic">S</tspan></text>
<text x="615.08" y="73.4" font-size="16.6" textLength="12.6" lengthAdjust="spacingAndGlyphs"><tspan>=</tspan></text>
<text x="631.09" y="71.5" font-size="16.6" textLength="16.78" lengthAdjust="spacingAndGlyphs"><tspan>13</tspan></text>
<text x="652.69" y="71.5" font-size="16.6" textLength="26.17" lengthAdjust="spacingAndGlyphs"><tspan>TeV</tspan></text>
<line x1="470.3" y1="21.3" x2="542.7" y2="21.3" stroke="#000" stroke-width="0.6"/>
<text x="499.61" y="19.9" font-size="10.6" textLength="12.81" lengthAdjust="spacingAndGlyphs"><tspan>d</tspan><tspan font-style="italic">σ</tspan></text>
<text x="470.37" y="30.6" font-size="11.6" textLength="72.82" lengthAdjust="spacingAndGlyphs"><tspan>d[</tspan><tspan font-style="italic">y</tspan><tspan>(</tspan><tspan font-style="italic">t</tspan><tspan>)</tspan><tspan dy="0.9">−</tspan><tspan font-style="italic" dy="-0.9">y</tspan><tspan>(</tspan><tspan font-style="italic">W</tspan><tspan>)]</tspan></text>
<text x="497.69" y="395.2" font-size="16.6" textLength="6.03" lengthAdjust="spacingAndGlyphs"><tspan font-style="italic">y</tspan></text>
<text x="503.9" y="395.2" font-size="16.6" textLength="4.99" lengthAdjust="spacingAndGlyphs"><tspan>(</tspan></text>
<text x="509.58" y="395.2" font-size="16.6" textLength="5.66" lengthAdjust="spacingAndGlyphs"><tspan font-style="italic">t</tspan></text>
<text x="517.14" y="395.2" font-size="16.6" textLength="5.12" lengthAdjust="spacingAndGlyphs"><tspan>)</tspan></text>
<text x="542.49" y="395.2" font-size="16.6" textLength="6.62" lengthAdjust="spacingAndGlyphs"><tspan font-style="italic">y</tspan></text>
<text x="549.18" y="395.2" font-size="16.6" textLength="5.12" lengthAdjust="spacingAndGlyphs"><tspan>(</tspan></text>
<text x="553.79" y="395.2" font-size="16.6" textLength="15.57" lengthAdjust="spacingAndGlyphs"><tspan font-style="italic">W</tspan></text>
<text x="571.67" y="395.2" font-size="16.6" textLength="5.89" lengthAdjust="spacingAndGlyphs"><tspan>)</tspan></text>
<line x1="526.8" y1="391.3" x2="536.7" y2="391.3" stroke="#000" stroke-width="0.85"/>
</svg></body></html>
